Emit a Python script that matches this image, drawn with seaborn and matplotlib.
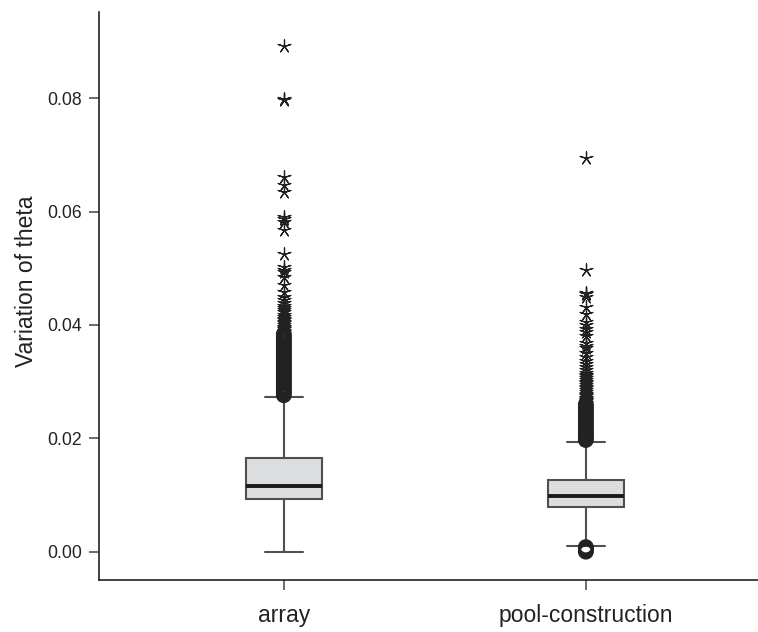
import numpy as np
import pandas as pd
import matplotlib
matplotlib.use("Agg")
import matplotlib.pyplot as plt
import seaborn as sns

# ---- data ----
categories = ["array", "pool-construction"]

# five-number summaries: lower whisker, Q1, median, Q3, upper whisker
array_box = [0.0000, 0.0093, 0.0116, 0.0166, 0.0273]
pool_box = [0.0010, 0.0079, 0.0099, 0.0126, 0.0194]

# mild outliers (circles)
array_circles = [0.0276, 0.0280, 0.0284, 0.0288, 0.0292, 0.0296, 0.0300,
                 0.0304, 0.0308, 0.0312, 0.0316, 0.0320, 0.0324, 0.0328,
                 0.0332, 0.0336, 0.0340, 0.0344, 0.0348, 0.0352, 0.0356,
                 0.0360, 0.0364, 0.0368, 0.0372, 0.0376, 0.0380, 0.0384]
pool_circles = [0.0000, 0.0002, 0.0004, 0.0006, 0.0008,
                0.0197, 0.0200, 0.0204, 0.0208, 0.0212, 0.0216, 0.0220,
                0.0224, 0.0228, 0.0232, 0.0236, 0.0240, 0.0244, 0.0248,
                0.0252, 0.0256, 0.0260]

# extreme outliers (stars)
array_stars = [0.0388, 0.0390, 0.0392, 0.0394, 0.0397, 0.0400, 0.0403,
               0.0406, 0.0409, 0.0411, 0.0414, 0.0418, 0.0422, 0.0426,
               0.0430, 0.0434, 0.0438, 0.0444, 0.0450, 0.0458, 0.0470,
               0.0485, 0.0494, 0.0497, 0.0503, 0.0525, 0.0567, 0.0582,
               0.0586, 0.0591, 0.0635, 0.0647, 0.0661, 0.0797, 0.0799,
               0.0892]
pool_stars = [0.0263, 0.0265, 0.0267, 0.0269, 0.0271, 0.0274, 0.0277,
              0.0279, 0.0282, 0.0285, 0.0288, 0.0291, 0.0294, 0.0297,
              0.0300, 0.0303, 0.0306, 0.0309, 0.0312, 0.0315, 0.0320,
              0.0326, 0.0331, 0.0337, 0.0344, 0.0350, 0.0359, 0.0363,
              0.0368, 0.0380, 0.0388, 0.0392, 0.0400, 0.0406, 0.0420,
              0.0432, 0.0450, 0.0454, 0.0456, 0.0497, 0.0694]

y_ticks = [0.00, 0.02, 0.04, 0.06, 0.08]
y_label = "Variation of theta"

# ---- frames ----
box_df = pd.DataFrame({
    "group": [categories[0]] * len(array_box) + [categories[1]] * len(pool_box),
    "value": array_box + pool_box,
})
circ_df = pd.DataFrame({
    "group": [categories[0]] * len(array_circles) + [categories[1]] * len(pool_circles),
    "value": array_circles + pool_circles,
})
star_df = pd.DataFrame({
    "group": [categories[0]] * len(array_stars) + [categories[1]] * len(pool_stars),
    "value": array_stars + pool_stars,
})

sns.set_style("white")
plt.rcParams["font.family"] = ["Liberation Sans", "DejaVu Sans"]
ink = "#222222"

fig = plt.figure(figsize=(7.58, 6.32), dpi=100)
ax = fig.add_axes([98.7 / 758, 1 - 580 / 632, 1 - 98.7 / 758, (580 - 12) / 632])

sns.boxplot(data=box_df, x="group", y="value", order=categories, ax=ax,
            width=0.25, whis=(0, 100), showfliers=False,
            color="#dcdddf", linecolor="#505050", linewidth=1.5,
            medianprops={"color": "#1a1a1a", "linewidth": 2.8})

sns.stripplot(data=circ_df, x="group", y="value", order=categories, ax=ax,
              jitter=False, marker="o", size=9.5, color=ink,
              edgecolor=ink, linewidth=1.9, zorder=5)

sns.stripplot(data=star_df, x="group", y="value", order=categories, ax=ax,
              jitter=False, marker=(5, 2, 0), size=9.5, color=ink,
              edgecolor=ink, linewidth=0.9, zorder=5)

# circle collections: make them hollow
for coll in ax.collections:
    if coll.get_paths() and len(coll.get_paths()[0].vertices) > 12:
        coll.set_facecolor("none")

ax.set_xlim(-0.613, 1.57)
ax.set_ylim(-0.0050, 0.0952)
ax.set_yticks(y_ticks)
ax.set_yticklabels([f"{v:.2f}" for v in y_ticks])
ax.set_xlabel("")
ax.set_ylabel(y_label, fontsize=16.5, color=ink)
ax.yaxis.set_label_coords(-0.092, 0.5255)

for s in ["top", "right"]:
    ax.spines[s].set_visible(False)
for s in ["left", "bottom"]:
    ax.spines[s].set_color(ink)
    ax.spines[s].set_linewidth(1.2)

ax.tick_params(axis="y", direction="out", length=7.5, width=1.1, color="#444444",
               labelsize=12.7, labelcolor=ink, pad=4.3, left=True)
ax.tick_params(axis="x", direction="out", length=7.5, width=1.1, color="#444444",
               labelsize=16.5, labelcolor=ink, pad=10, bottom=True)

fig.savefig("out.png", dpi=100)
